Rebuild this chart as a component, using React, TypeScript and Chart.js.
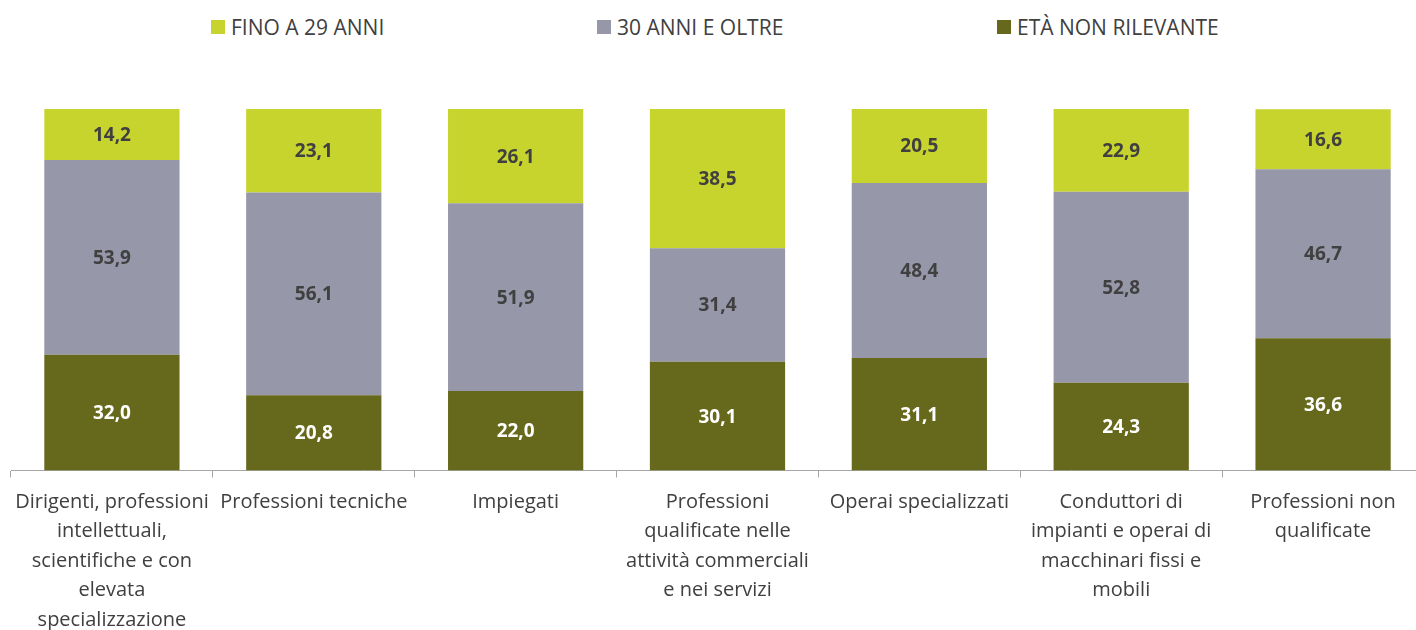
import React, { useEffect, useRef } from "react";
import { Chart, registerables } from "chart.js";

Chart.register(...registerables);

const categories: string[][] = [
  ["Dirigenti, professioni", "intellettuali,", "scientifiche e con", "elevata", "specializzazione"],
  ["Professioni tecniche"],
  ["Impiegati"],
  ["Professioni", "qualificate nelle", "attività commerciali", "e nei servizi"],
  ["Operai specializzati"],
  ["Conduttori di", "impianti e operai di", "macchinari fissi e", "mobili"],
  ["Professioni non", "qualificate"],
];

const seriesNames = ["FINO A 29 ANNI", "30 ANNI E OLTRE", "ETÀ NON RILEVANTE"];
const fino29 = [14.2, 23.1, 26.1, 38.5, 20.5, 22.9, 16.6];
const oltre30 = [53.9, 56.1, 51.9, 31.4, 48.4, 52.8, 46.7];
const nonRilevante = [32.0, 20.8, 22.0, 30.1, 31.1, 24.3, 36.6];

const colFino = "#C8D42E";
const colOltre = "#9697A8";
const colNonRil = "#66691B";
const textDark = "#404040";
const FONT = "'Open Sans', sans-serif";

const valueLabels = {
  id: "valueLabels",
  afterDatasetsDraw(chart: any) {
    const ctx = chart.ctx;
    chart.data.datasets.forEach((ds: any, i: number) => {
      const meta = chart.getDatasetMeta(i);
      meta.data.forEach((bar: any, j: number) => {
        const v = ds.data[j] as number;
        const p = bar.getProps(["x", "y", "base"], true);
        ctx.save();
        ctx.font = `bold 19px ${FONT}`;
        ctx.fillStyle = ds.labelColor;
        ctx.textAlign = "center";
        ctx.textBaseline = "middle";
        ctx.fillText(v.toFixed(1).replace(".", ","), p.x, (p.y + p.base) / 2 + 1);
        ctx.restore();
      });
    });
  },
};

export default function App() {
  const ref = useRef<HTMLCanvasElement | null>(null);

  useEffect(() => {
    if (!ref.current) return;
    const chart = new Chart(ref.current, {
      type: "bar",
      data: {
        labels: categories,
        datasets: [
          { label: seriesNames[2], data: nonRilevante, backgroundColor: colNonRil, labelColor: "#FFFFFF" } as any,
          { label: seriesNames[1], data: oltre30, backgroundColor: colOltre, labelColor: textDark } as any,
          { label: seriesNames[0], data: fino29, backgroundColor: colFino, labelColor: textDark } as any,
        ],
      },
      options: {
        animation: false,
        responsive: false,
        maintainAspectRatio: false,
        layout: { padding: { left: 11, right: 6, top: 109, bottom: 0 } },
        datasets: { bar: { categoryPercentage: 1, barPercentage: 0.67 } },
        plugins: { legend: { display: false }, tooltip: { enabled: false } },
        scales: {
          x: {
            stacked: true,
            grid: { drawOnChartArea: false, drawTicks: true, tickLength: 7, color: "#A6A6A6" },
            border: { color: "#A6A6A6", width: 1 },
            ticks: {
              autoSkip: false,
              maxRotation: 0,
              minRotation: 0,
              padding: 10,
              color: textDark,
              font: { family: FONT, size: 20, lineHeight: 1.475 },
            },
          },
          y: { stacked: true, display: false, min: 0, max: 100 },
        },
      },
      plugins: [valueLabels],
    });
    return () => chart.destroy();
  }, []);

  const legendItems = [
    { name: seriesNames[0], color: colFino, left: 211 },
    { name: seriesNames[1], color: colOltre, left: 597 },
    { name: seriesNames[2], color: colNonRil, left: 997 },
  ];

  return (
    <div style={{ position: "fixed", left: 0, top: 0, width: 1416, height: 630, overflow: "hidden", background: "#fff" }}>
      {legendItems.map((it) => (
        <div
          key={it.name}
          style={{ position: "absolute", left: it.left, top: 13, height: 28, display: "flex", alignItems: "center", fontFamily: FONT, fontSize: 21, color: textDark, whiteSpace: "nowrap" }}
        >
          <span style={{ display: "inline-block", width: 14, height: 14, background: it.color, marginRight: 6 }} />
          <span>{it.name}</span>
        </div>
      ))}
      <canvas ref={ref} width={1430} height={645} style={{ position: "absolute", left: 0, top: 0, width: 1430, height: 645 }} />
    </div>
  );
}
